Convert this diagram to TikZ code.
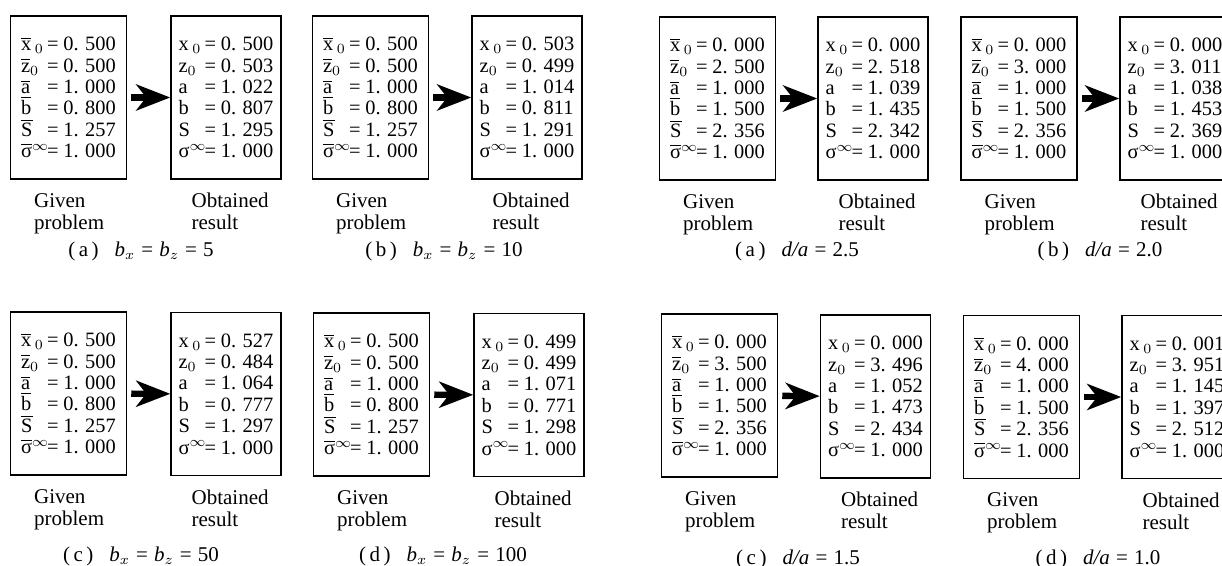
\documentclass[tikz,border=0pt]{standalone}
\usepackage{fontspec}
\setmainfont{Liberation Serif}
\usetikzlibrary{positioning,arrows.meta}

% Value lists inside the boxes
\newcommand{\valfont}{\fontsize{10.2}{10.7}\selectfont\spaceskip 2.4pt\relax}
\newcommand{\ob}[1]{$\overline{\mbox{#1}}$}
\newcommand{\sym}[1]{\makebox[1.27em][l]{#1}}
\newcommand{\givenvals}[6]{%
  \sym{\ob{x}\,$_0$}= #1\\
  \sym{\ob{z}$_0$}= #2\\
  \sym{\ob{a}}= #3\\
  \sym{\ob{b}}= #4\\
  \sym{\ob{S}}= #5\\
  \sym{\ob{σ}$^{\infty}$}= #6}
\newcommand{\resultvals}[6]{%
  \sym{x\,$_0$}= #1\\
  \sym{z$_0$}= #2\\
  \sym{a}= #3\\
  \sym{b}= #4\\
  \sym{S}= #5\\
  \sym{σ$^{\infty}$}= #6}

% Sub-captions
\newcommand{\tagp}[1]{(\,#1\,)\hspace{8pt}}
\newcommand{\bxz}[1]{\textit{b}$_{x}$\makebox[1.15em]{=}\textit{b}$_{z}$\makebox[1.15em]{=}#1}
\newcommand{\dra}[1]{\textit{d/a}\makebox[1.15em]{=}#1}

\begin{document}
\begin{tikzpicture}[x=0.5pt, y=-0.5pt,
    valbox/.style={draw=borderColour, line width=0.75pt, inner sep=0pt, minimum height=81.5pt,
                   align=left, font=\valfont},
    given/.style={valbox, minimum width=58pt},
    result/.style={valbox, minimum width=55pt},
    lbl/.style={align=left, inner sep=0pt, font=\fontsize{10.5}{11}\selectfont},
    subcap/.style={inner sep=0pt, font=\fontsize{10.5}{12}\selectfont},
    fatarrow/.style={line width=3.2pt, draw=borderColour,
                     -{Stealth[length=17pt, width=13pt, inset=5pt]}, shorten <=2pt}]
    % Define colours
    \definecolor{borderColour}{HTML}{000000}

    % Page frame
    \path[use as bounding box, clip] (0,0) rectangle (1222,566);

    % Panel (a): b_x = b_z = 5
    \node[given] (g1) at (68.5,97.5) {\givenvals{0. 500}{0. 500}{1. 000}{0. 800}{1. 257}{1. 000}};
    \node[result] (r1) at (226,97.5) {\resultvals{0. 500}{0. 503}{1. 022}{0. 807}{1. 295}{1. 000}};
    \draw[fatarrow] (g1) -- (r1);
    \node[lbl, below right=6.5pt and 12pt of g1.south west] (g1l) {Given\\problem};
    \node[lbl, below right=6.5pt and 10.5pt of r1.south west] (r1l) {Obtained\\result};
    \node[subcap] (c1) at (141,251) {\tagp{a}\bxz{5}};

    % Panel (b): b_x = b_z = 10
    \node[given] (g2) at (370.5,97.5) {\givenvals{0. 500}{0. 500}{1. 000}{0. 800}{1. 257}{1. 000}};
    \node[result] (r2) at (527,97.5) {\resultvals{0. 503}{0. 499}{1. 014}{0. 811}{1. 291}{1. 000}};
    \draw[fatarrow] (g2) -- (r2);
    \node[lbl, below right=6.5pt and 12pt of g2.south west] (g2l) {Given\\problem};
    \node[lbl, below right=6.5pt and 10.5pt of r2.south west] (r2l) {Obtained\\result};
    \node[subcap] (c2) at (444,251) {\tagp{b}\bxz{10}};

    % Panel (c): b_x = b_z = 50
    \node[given] (g5) at (68.5,393.5) {\givenvals{0. 500}{0. 500}{1. 000}{0. 800}{1. 257}{1. 000}};
    \node[result] (r5) at (226,394) {\resultvals{0. 527}{0. 484}{1. 064}{0. 777}{1. 297}{1. 000}};
    \draw[fatarrow] (g5) -- (r5);
    \node[lbl, below right=6.5pt and 12pt of g5.south west] (g5l) {Given\\problem};
    \node[lbl, below right=6.5pt and 10.5pt of r5.south west] (r5l) {Obtained\\result};
    \node[subcap] (c5) at (141,556) {\tagp{c}\bxz{50}};

    % Panel (d): b_x = b_z = 100
    \node[given] (g6) at (371.5,394.5) {\givenvals{0. 500}{0. 500}{1. 000}{0. 800}{1. 257}{1. 000}};
    \node[result] (r6) at (529,395) {\resultvals{0. 499}{0. 499}{1. 071}{0. 771}{1. 298}{1. 000}};
    \draw[fatarrow] (g6) -- (r6);
    \node[lbl, below right=6.5pt and 12pt of g6.south west] (g6l) {Given\\problem};
    \node[lbl, below right=6.5pt and 10.5pt of r6.south west] (r6l) {Obtained\\result};
    \node[subcap] (c6) at (443,556) {\tagp{d}\bxz{100}};

    % Panel (a): d/a = 2.5
    \node[given] (g3) at (717.5,98.5) {\givenvals{0. 000}{2. 500}{1. 000}{1. 500}{2. 356}{1. 000}};
    \node[result] (r3) at (873,98.5) {\resultvals{0. 000}{2. 518}{1. 039}{1. 435}{2. 342}{1. 000}};
    \draw[fatarrow] (g3) -- (r3);
    \node[lbl, below right=6.5pt and 12pt of g3.south west] (g3l) {Given\\problem};
    \node[lbl, below right=6.5pt and 10.5pt of r3.south west] (r3l) {Obtained\\result};
    \node[subcap] (c3) at (797,251) {\tagp{a}\dra{2.5}};

    % Panel (b): d/a = 2.0
    \node[given] (g4) at (1019,98.5) {\givenvals{0. 000}{3. 000}{1. 000}{1. 500}{2. 356}{1. 000}};
    \node[result] (r4) at (1175,98.5) {\resultvals{0. 000}{3. 011}{1. 038}{1. 453}{2. 369}{1. 000}};
    \draw[fatarrow] (g4) -- (r4);
    \node[lbl, below right=6.5pt and 12pt of g4.south west] (g4l) {Given\\problem};
    \node[lbl, below right=6.5pt and 10.5pt of r4.south west] (r4l) {Obtained\\result};
    \node[subcap] (c4) at (1100,251) {\tagp{b}\dra{2.0}};

    % Panel (c): d/a = 1.5
    \node[given] (g7) at (719.5,395.5) {\givenvals{0. 000}{3. 500}{1. 000}{1. 500}{2. 356}{1. 000}};
    \node[result] (r7) at (875.5,396.5) {\resultvals{0. 000}{3. 496}{1. 052}{1. 473}{2. 434}{1. 000}};
    \draw[fatarrow] (g7) -- (r7);
    \node[lbl, below right=6.5pt and 12pt of g7.south west] (g7l) {Given\\problem};
    \node[lbl, below right=6.5pt and 10.5pt of r7.south west] (r7l) {Obtained\\result};
    \node[subcap] (c7) at (798,559) {\tagp{c}\dra{1.5}};

    % Panel (d): d/a = 1.0
    \node[given] (g8) at (1021.5,397) {\givenvals{0. 000}{4. 000}{1. 000}{1. 500}{2. 356}{1. 000}};
    \node[result] (r8) at (1177,397) {\resultvals{0. 001}{3. 951}{1. 145}{1. 397}{2. 512}{1. 000}};
    \draw[fatarrow] (g8) -- (r8);
    \node[lbl, below right=6.5pt and 12pt of g8.south west] (g8l) {Given\\problem};
    \node[lbl, below right=6.5pt and 10.5pt of r8.south west] (r8l) {Obtained\\result};
    \node[subcap] (c8) at (1098,559) {\tagp{d}\dra{1.0}};

\end{tikzpicture}
\end{document}
